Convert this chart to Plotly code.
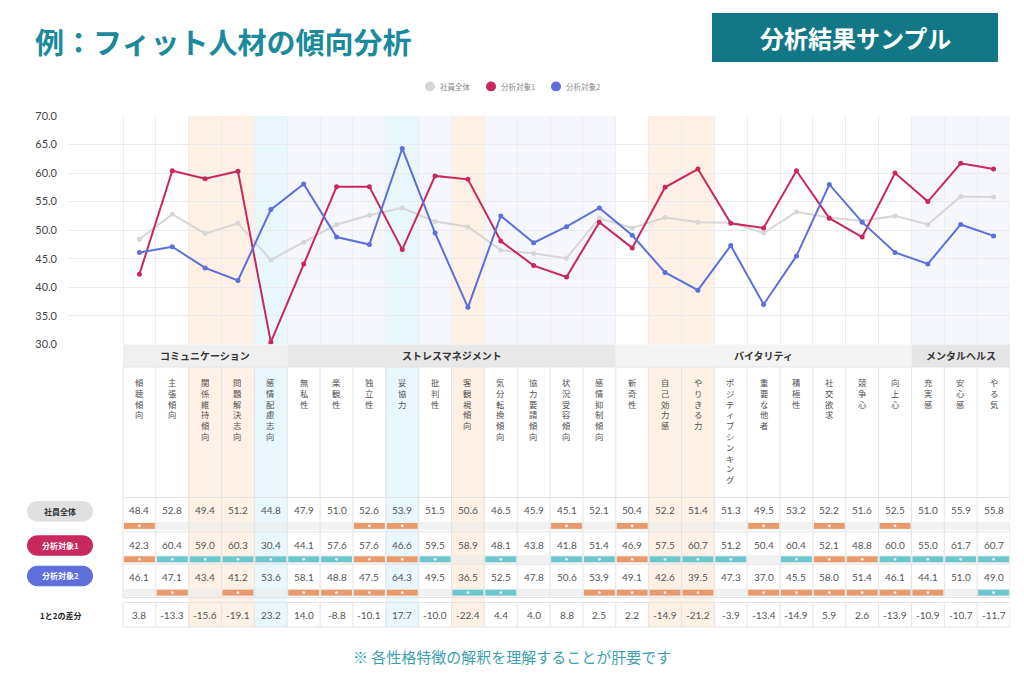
import plotly.graph_objects as go

W, H = 1024, 683

categories = ["傾聴傾向", "主張傾向", "関係維持傾向", "問題解決志向", "感情配慮志向",
              "無私性", "楽観性", "独立性", "妥協力", "批判性", "客観視傾向", "気分転換傾向",
              "協力要請傾向", "状況受容傾向", "感情抑制傾向",
              "新奇性", "自己効力感", "やりきる力", "ポジティブシンキング", "重要な他者",
              "積極性", "社交欲求", "競争心", "向上心",
              "充実感", "安心感", "やる気"]
group_names = ["コミュニケーション", "ストレスマネジメント", "バイタリティ", "メンタルヘルス"]
group_sizes = [5, 10, 9, 3]
series_names = ["社員全体", "分析対象1", "分析対象2"]
all_staff = [48.4, 52.8, 49.4, 51.2, 44.8, 47.9, 51.0, 52.6, 53.9, 51.5, 50.6, 46.5, 45.9, 45.1,
             52.1, 50.4, 52.2, 51.4, 51.3, 49.5, 53.2, 52.2, 51.6, 52.5, 51.0, 55.9, 55.8]
target1 = [42.3, 60.4, 59.0, 60.3, 30.4, 44.1, 57.6, 57.6, 46.6, 59.5, 58.9, 48.1, 43.8, 41.8,
           51.4, 46.9, 57.5, 60.7, 51.2, 50.4, 60.4, 52.1, 48.8, 60.0, 55.0, 61.7, 60.7]
target2 = [46.1, 47.1, 43.4, 41.2, 53.6, 58.1, 48.8, 47.5, 64.3, 49.5, 36.5, 52.5, 47.8, 50.6,
           53.9, 49.1, 42.6, 39.5, 47.3, 37.0, 45.5, 58.0, 51.4, 46.1, 44.1, 51.0, 49.0]
diff_label = "1と2の差分"
diff_values = ["3.8", "-13.3", "-15.6", "-19.1", "23.2", "14.0", "-8.8", "-10.1", "17.7", "-10.0",
               "-22.4", "4.4", "4.0", "8.8", "2.5", "2.2", "-14.9", "-21.2", "-3.9", "-13.4",
               "-14.9", "5.9", "2.6", "-13.9", "-10.9", "-10.7", "-11.7"]
# flags under each cell: o = orange bar, t = teal bar, - = none
flags_all = list("o------oo----o-o---o-o-o---")
flags_t1 = list("ottttttoot-t-ttottt-tootttt")
flags_t2 = list("-o-o-oooo-tt--oooo-oooooo-t")
# highlighted columns: o = peach, b = light blue
col_highlight = list("--oob---b-o-----oo---------")
group_tint = [False, True, False, True]
y_ticks = [30, 35, 40, 45, 50, 55, 60, 65, 70]

FONT = "Noto Sans CJK JP"
C_GRAY, C_RED, C_BLUE = "#d6d6d6", "#c8285b", "#5d6fdb"
C_ORANGE_BAR, C_TEAL_BAR = "#e89a6c", "#6cc6cd"


def X(p):
    return p / W


def Y(p):
    return 1 - p / H


X0, X1, COL0 = 68, 1010, 123
ncol = len(categories)
cw = (X1 - COL0) / ncol
xmin = -0.5 - (COL0 - X0) / cw
xmax = ncol - 0.5
CH_TOP, CH_BOT = 111, 344

fig = go.Figure()
xs = list(range(ncol))
for name, vals, c in zip(series_names, [all_staff, target1, target2], [C_GRAY, C_RED, C_BLUE]):
    fig.add_trace(go.Scatter(x=xs, y=vals, mode="lines+markers", line=dict(color=c, width=2),
                             marker=dict(size=5, color=c), name=name, showlegend=False, hoverinfo="skip"))

shapes = []
ann = []

col_group = []
for g, n in enumerate(group_sizes):
    col_group += [g] * n

# chart column backgrounds
for i in range(ncol):
    h = col_highlight[i]
    if h == "o":
        fc = "#fdf0e5"
    elif h == "b":
        fc = "#e8f7fc"
    elif group_tint[col_group[i]]:
        fc = "#f6f6fd"
    else:
        continue
    shapes.append(dict(type="rect", xref="x", yref="y", x0=i - 0.5, x1=i + 0.5, y0=30, y1=70,
                       fillcolor=fc, line=dict(width=0), layer="below"))

# table highlighted columns
for i in range(ncol):
    h = col_highlight[i]
    if h in ("o", "b"):
        fc = "#fdf0e5" if h == "o" else "#e8f7fc"
        shapes.append(dict(type="rect", xref="x", yref="paper", x0=i - 0.5, x1=i + 0.5,
                           y0=Y(632), y1=Y(367), fillcolor=fc, line=dict(width=0), layer="below"))

# group headers
start = 0
hdr_colors = ["#efefef", "#e8e8e8", "#f3f3f4", "#e6e6e6"]
for g, n in enumerate(group_sizes):
    shapes.append(dict(type="rect", xref="x", yref="paper", x0=start - 0.5, x1=start + n - 0.5,
                       y0=Y(367), y1=Y(344), fillcolor=hdr_colors[g], line=dict(width=0)))
    ann.append(dict(xref="x", yref="paper", x=start + (n - 1) / 2, y=Y(355.5), text="<b>" + group_names[g] + "</b>",
                    showarrow=False, font=dict(family=FONT, size=10, color="#333"),
                    xanchor="center", yanchor="middle"))
    start += n

# value rows with flag bars
rows = [(513, 526, 532, all_staff, flags_all), (548, 560, 566, target1, flags_t1),
        (581, 594, 600, target2, flags_t2)]
for ty, b0, b1, vals, flags in rows:
    shapes.append(dict(type="rect", xref="x", yref="paper", x0=-0.5, x1=ncol - 0.5,
                       y0=Y(b1 + 1), y1=Y(b0 - 1), fillcolor="rgba(235,235,235,0.7)", line=dict(width=0)))
    for i in range(ncol):
        ann.append(dict(xref="x", yref="paper", x=i, y=Y(ty), text=f"{vals[i]:.1f}", showarrow=False,
                        font=dict(family="Lato", size=10, color="#555"), xanchor="center", yanchor="middle"))
        f = flags[i]
        if f in ("o", "t"):
            fc = C_ORANGE_BAR if f == "o" else C_TEAL_BAR
            shapes.append(dict(type="rect", xref="x", yref="paper", x0=i - 0.47, x1=i + 0.47,
                               y0=Y(b1), y1=Y(b0), fillcolor=fc, line=dict(width=0)))
            r = 1.4
            shapes.append(dict(type="circle", xref="x", yref="paper", x0=i - r / cw, x1=i + r / cw,
                               y0=Y((b0 + b1) / 2 + r), y1=Y((b0 + b1) / 2 - r),
                               fillcolor="rgba(255,255,255,0.85)", line=dict(width=0)))

# diff row
for i in range(ncol):
    ann.append(dict(xref="x", yref="paper", x=i, y=Y(620), text=diff_values[i], showarrow=False,
                    font=dict(family="Lato", size=10, color="#555"), xanchor="center", yanchor="middle"))

# table grid lines
LC = "#e3e3e3"
for k in range(ncol + 1):
    xb = k - 0.5
    shapes.append(dict(type="line", xref="x", yref="paper", x0=xb, x1=xb, y0=Y(602), y1=Y(367),
                       line=dict(color=LC, width=1)))
    shapes.append(dict(type="line", xref="x", yref="paper", x0=xb, x1=xb, y0=Y(632), y1=Y(607),
                       line=dict(color=LC, width=1)))
for yy in [367, 500, 535, 568, 602, 607, 632]:
    shapes.append(dict(type="line", xref="x", yref="paper", x0=-0.5, x1=ncol - 0.5, y0=Y(yy), y1=Y(yy),
                       line=dict(color=LC, width=1)))

# vertical category labels
for i, c in enumerate(categories):
    ann.append(dict(xref="x", yref="paper", x=i, y=Y(374), text="<br>".join(list(c)), showarrow=False,
                    font=dict(family=FONT, size=8.3, color="#505050"), xanchor="center", yanchor="top"))


def pill(x0, y0, x1, y1):
    r = (y1 - y0) / 2
    k = 0.5523 * r
    return (f"M{X(x0 + r)},{Y(y0)} L{X(x1 - r)},{Y(y0)} "
            f"C{X(x1 - r + k)},{Y(y0)} {X(x1)},{Y(y0 + r - k)} {X(x1)},{Y(y0 + r)} "
            f"C{X(x1)},{Y(y0 + r + k)} {X(x1 - r + k)},{Y(y1)} {X(x1 - r)},{Y(y1)} "
            f"L{X(x0 + r)},{Y(y1)} "
            f"C{X(x0 + r - k)},{Y(y1)} {X(x0)},{Y(y1 - r + k)} {X(x0)},{Y(y1 - r)} "
            f"C{X(x0)},{Y(y0 + r - k)} {X(x0 + r - k)},{Y(y0)} {X(x0 + r)},{Y(y0)} Z")


pill_info = [(514, "#e0e0e0", "#333"), (549, C_RED, "white"), (580, C_BLUE, "white")]
for (cy, fc, tc), name in zip(pill_info, series_names):
    shapes.append(dict(type="path", xref="paper", yref="paper", path=pill(27, cy - 10.5, 93, cy + 10.5),
                       fillcolor=fc, line=dict(width=0)))
    ann.append(dict(xref="paper", yref="paper", x=X(60), y=Y(cy), text="<b>" + name + "</b>", showarrow=False,
                    font=dict(family=FONT, size=8, color=tc), xanchor="center", yanchor="middle"))
ann.append(dict(xref="paper", yref="paper", x=X(60), y=Y(620), text="<b>" + diff_label + "</b>", showarrow=False,
                font=dict(family=FONT, size=8, color="#222"), xanchor="center", yanchor="middle"))

# legend (compact, centred above the chart)
leg_x = [430, 491, 556]
for lx, name, c in zip(leg_x, series_names, [C_GRAY, C_RED, C_BLUE]):
    shapes.append(dict(type="circle", xref="paper", yref="paper", x0=X(lx - 5), x1=X(lx + 5),
                       y0=Y(86), y1=Y(76), fillcolor=c, line=dict(width=0)))
    ann.append(dict(xref="paper", yref="paper", x=X(lx + 8), y=Y(81), text=name, showarrow=False,
                    font=dict(family=FONT, size=7.5, color="#888"), xanchor="left", yanchor="middle"))

# title and badge
ann.append(dict(xref="paper", yref="paper", x=X(33), y=Y(35), text="<b>例：フィット人材の傾向分析</b>",
                showarrow=False, font=dict(family=FONT, size=29, color="#1b8a9c"),
                xanchor="left", yanchor="middle"))
shapes.append(dict(type="rect", xref="paper", yref="paper", x0=X(712), x1=X(998), y0=Y(56), y1=Y(6),
                   fillcolor="#127786", line=dict(width=0)))
ann.append(dict(xref="paper", yref="paper", x=X(855), y=Y(31), text="<b>分析結果サンプル</b>",
                showarrow=False, font=dict(family=FONT, size=24, color="white"),
                xanchor="center", yanchor="middle"))
# footnote
ann.append(dict(xref="paper", yref="paper", x=X(512), y=Y(662), text="※ 各性格特徴の解釈を理解することが肝要です",
                showarrow=False, font=dict(family=FONT, size=15, color="#3b9fb0"),
                xanchor="center", yanchor="middle"))

fig.update_layout(
    width=W, height=H, margin=dict(l=0, r=0, t=0, b=0),
    paper_bgcolor="white", plot_bgcolor="white",
    font=dict(family=FONT),
    shapes=shapes, annotations=ann,
    showlegend=False,
    xaxis=dict(domain=[X(X0), X(X1)], range=[xmin, xmax], tickvals=[k - 0.5 for k in range(ncol + 1)],
               showticklabels=False, showgrid=True, gridcolor="#ececf1", zeroline=False, showline=False,
               fixedrange=True),
    yaxis=dict(domain=[Y(CH_BOT), Y(CH_TOP)], range=[30, 70], tickvals=y_ticks, tickformat=".1f",
               showgrid=True, gridcolor="#e9e9ee", zeroline=False, showline=False, ticks="",
               ticklabelstandoff=10, tickfont=dict(family="Lato", size=11, color="#444"), fixedrange=True),
)

fig.write_html("out.html", config={"displayModeBar": False},
               post_script="document.body.style.margin='0';document.body.style.overflow='hidden';")
